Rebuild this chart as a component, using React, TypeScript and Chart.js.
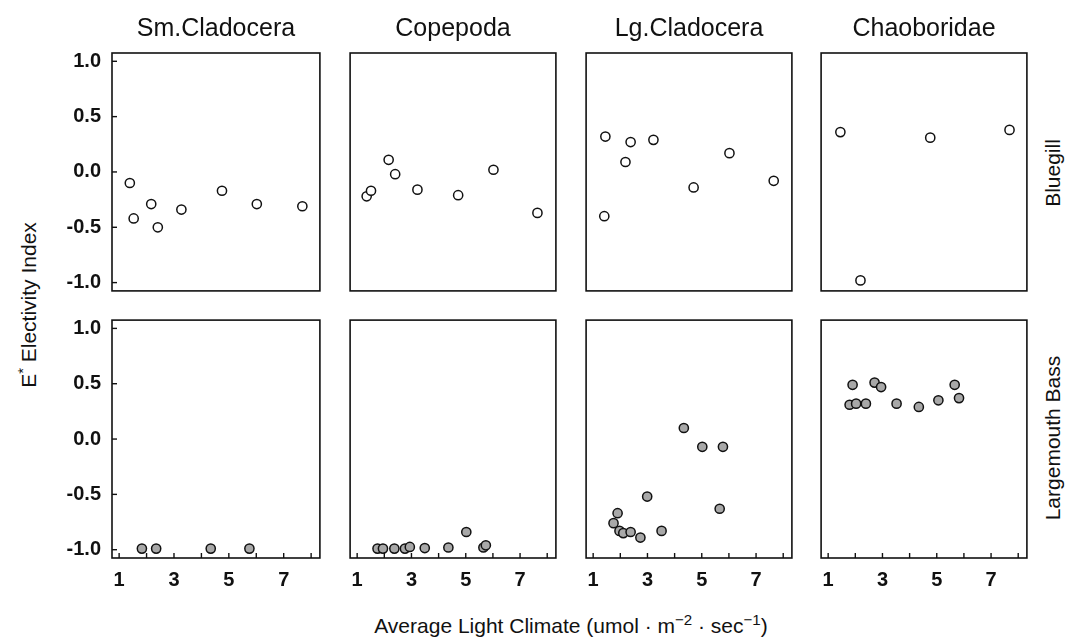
import React, { useEffect, useRef } from "react";
import { Chart, registerables } from "chart.js";

Chart.register(...registerables);

// ---------- Data ----------
const preyTitles = ["Sm.Cladocera", "Copepoda", "Lg.Cladocera", "Chaoboridae"];
const fishLabels = ["Bluegill", "Largemouth Bass"];

const xTickValues = [1, 2, 3, 4, 5, 6, 7, 8];
const xTickLabels = ["1", "", "3", "", "5", "", "7", ""];
const yTickValues = [-1, -0.5, 0, 0.5, 1];
const yTickLabels = ["-1.0", "-0.5", "0.0", "0.5", "1.0"];

// Bluegill
const bgSmCladoceraX = [1.39, 1.53, 2.17, 2.41, 3.27, 4.75, 6.02, 7.68];
const bgSmCladoceraY = [-0.1, -0.42, -0.29, -0.5, -0.34, -0.17, -0.29, -0.31];
const bgCopepodaX = [1.35, 1.51, 2.16, 2.4, 3.22, 4.72, 6.02, 7.64];
const bgCopepodaY = [-0.22, -0.17, 0.11, -0.02, -0.16, -0.21, 0.02, -0.37];
const bgLgCladoceraX = [1.41, 1.45, 2.19, 2.38, 3.22, 4.7, 6.02, 7.65];
const bgLgCladoceraY = [-0.4, 0.32, 0.09, 0.27, 0.29, -0.14, 0.17, -0.08];
const bgChaoboridaeX = [1.45, 2.19, 4.76, 7.68];
const bgChaoboridaeY = [0.36, -0.98, 0.31, 0.38];

// Largemouth Bass
const lmbSmCladoceraX = [1.83, 2.35, 4.34, 5.75];
const lmbSmCladoceraY = [-0.99, -0.99, -0.99, -0.99];
const lmbCopepodaX = [1.75, 1.95, 2.37, 2.76, 2.94, 3.49, 4.36, 5.02, 5.65, 5.74];
const lmbCopepodaY = [-0.99, -0.99, -0.99, -0.99, -0.975, -0.985, -0.98, -0.84, -0.98, -0.96];
const lmbLgCladoceraX = [1.75, 1.9, 1.97, 2.11, 2.38, 2.74, 2.99, 3.52, 4.34, 5.02, 5.66, 5.78];
const lmbLgCladoceraY = [-0.76, -0.67, -0.83, -0.85, -0.84, -0.89, -0.52, -0.83, 0.1, -0.07, -0.63, -0.07];
const lmbChaoboridaeX = [1.79, 1.9, 2.03, 2.39, 2.71, 2.95, 3.52, 4.34, 5.06, 5.66, 5.82];
const lmbChaoboridaeY = [0.31, 0.49, 0.32, 0.32, 0.51, 0.47, 0.32, 0.29, 0.35, 0.49, 0.37];

const panelXs = [
  [bgSmCladoceraX, bgCopepodaX, bgLgCladoceraX, bgChaoboridaeX],
  [lmbSmCladoceraX, lmbCopepodaX, lmbLgCladoceraX, lmbChaoboridaeX],
];
const panelYs = [
  [bgSmCladoceraY, bgCopepodaY, bgLgCladoceraY, bgChaoboridaeY],
  [lmbSmCladoceraY, lmbCopepodaY, lmbLgCladoceraY, lmbChaoboridaeY],
];

// ---------- Layout ----------
const X_MIN = 0.74;
const X_MAX = 8.32;
const Y_MIN = -1.075;
const Y_MAX = 1.075;

const BOX_LEFTS = [112, 348, 583.5, 819];
const BOX_TOPS = [53, 318];
const BOX_W = 210;
const BOX_H = 240;
const Y_AXIS_W = 60;
const X_AXIS_H = 36;
const TITLE_H = 53;
const EDGE = 4;

const FONT = "'Liberation Sans', Arial, Helvetica, sans-serif";
const INK = "#111111";

const framePlugin = {
  id: "panelFrame",
  afterDatasetsDraw(chart: any, _args: any, opts: any) {
    const { ctx, chartArea } = chart;
    const { left, right, top, bottom } = chartArea;
    ctx.save();
    ctx.strokeStyle = INK;
    ctx.lineWidth = 1.6;
    ctx.strokeRect(left, top, right - left, bottom - top);
    ctx.lineWidth = 1.4;
    const tl = 5;
    if (opts.xTicks) {
      const xs = chart.scales.x;
      xTickValues.forEach((v) => {
        const px = xs.getPixelForValue(v);
        ctx.beginPath();
        ctx.moveTo(px, bottom);
        ctx.lineTo(px, bottom - tl);
        ctx.stroke();
      });
    }
    if (opts.yTicks) {
      const ys = chart.scales.y;
      yTickValues.forEach((v) => {
        const py = ys.getPixelForValue(v);
        ctx.beginPath();
        ctx.moveTo(left, py);
        ctx.lineTo(left + tl, py);
        ctx.stroke();
      });
    }
    ctx.restore();
  },
};

function Panel({ row, col }: { row: number; col: number }) {
  const ref = useRef<HTMLCanvasElement | null>(null);
  const showX = row === 1;
  const showY = col === 0;
  const padL = showY ? Y_AXIS_W : EDGE;
  const padT = row === 0 ? TITLE_H : EDGE;
  const padB = showX ? X_AXIS_H : EDGE;
  const width = BOX_W + padL + EDGE;
  const height = BOX_H + padT + padB;
  const left = BOX_LEFTS[col] - padL;
  const top = BOX_TOPS[row] - padT;

  useEffect(() => {
    if (!ref.current) return;
    const xs = panelXs[row][col];
    const ys = panelYs[row][col];
    const data = xs.map((x, i) => ({ x, y: ys[i] }));
    const chart = new Chart(ref.current, {
      type: "scatter",
      data: {
        datasets: [
          {
            label: fishLabels[row] + " " + preyTitles[col],
            data,
            backgroundColor: row === 0 ? "#ffffff" : "#a8a8a8",
            borderColor: INK,
            borderWidth: 1.5,
            pointRadius: 4.6,
            pointHoverRadius: 4.6,
            clip: false as any,
          },
        ],
      },
      options: {
        animation: false,
        responsive: false,
        events: [],
        layout: {
          padding: {
            left: showY ? 0 : EDGE,
            right: EDGE,
            top: row === 0 ? 0 : EDGE,
            bottom: showX ? 0 : EDGE,
          },
        },
        scales: {
          x: {
            type: "linear",
            min: X_MIN,
            max: X_MAX,
            display: showX,
            afterBuildTicks: (s: any) => {
              s.ticks = xTickValues.map((v) => ({ value: v }));
            },
            afterFit: (s: any) => {
              s.height = showX ? X_AXIS_H : 0;
              s.paddingLeft = 0;
              s.paddingRight = 0;
            },
            grid: { display: false, drawTicks: false },
            border: { display: false },
            ticks: {
              autoSkip: false,
              maxRotation: 0,
              padding: 10,
              color: INK,
              font: { family: FONT, size: 20, weight: "bold" },
              callback: (v: any) => xTickLabels[xTickValues.indexOf(Number(v))] ?? "",
            },
          },
          y: {
            type: "linear",
            min: Y_MIN,
            max: Y_MAX,
            display: showY,
            afterBuildTicks: (s: any) => {
              s.ticks = yTickValues.map((v) => ({ value: v }));
            },
            afterFit: (s: any) => {
              s.width = showY ? Y_AXIS_W : 0;
              s.paddingTop = 0;
              s.paddingBottom = 0;
            },
            grid: { display: false, drawTicks: false },
            border: { display: false },
            ticks: {
              autoSkip: false,
              padding: 11,
              color: INK,
              font: { family: FONT, size: 20, weight: "bold" },
              callback: (v: any) => yTickLabels[yTickValues.indexOf(Number(v))] ?? "",
            },
          },
        },
        plugins: {
          legend: { display: false },
          tooltip: { enabled: false },
          title: {
            display: row === 0,
            text: preyTitles[col],
            fullSize: false,
            color: INK,
            font: { family: FONT, size: 25, weight: "normal", lineHeight: 1 },
            padding: { top: 17, bottom: TITLE_H - 25 - 17 },
          },
          panelFrame: { xTicks: showX, yTicks: showY },
        } as any,
      },
      plugins: [framePlugin],
    } as any);
    return () => chart.destroy();
  }, [row, col]);

  return (
    <canvas
      ref={ref}
      width={width}
      height={height}
      style={{ position: "absolute", left, top, width, height }}
    />
  );
}

export default function App() {
  const textBase: React.CSSProperties = {
    position: "absolute",
    fontFamily: FONT,
    color: INK,
    whiteSpace: "nowrap",
    lineHeight: 1,
  };
  return (
    <div
      style={{
        position: "fixed",
        left: 0,
        top: 0,
        width: 1067,
        height: 641,
        background: "#ffffff",
        overflow: "hidden",
      }}
    >
      {[0, 1].map((r) => [0, 1, 2, 3].map((c) => <Panel key={r + "-" + c} row={r} col={c} />))}
      <div
        style={{
          ...textBase,
          left: 27,
          top: 305,
          fontSize: 21,
          transform: "translate(-50%, -50%) rotate(-90deg)",
        }}
      >
        E<sup style={{ fontSize: "0.7em" }}>*</sup> Electivity Index
      </div>
      <div
        style={{
          ...textBase,
          left: 571,
          top: 624,
          fontSize: 21,
          transform: "translate(-50%, -50%)",
        }}
      >
        Average Light Climate (umol · m<sup style={{ fontSize: "0.72em" }}>−2</sup> · sec
        <sup style={{ fontSize: "0.72em" }}>−1</sup>)
      </div>
      {fishLabels.map((label, i) => (
        <div
          key={label}
          style={{
            ...textBase,
            left: 1052,
            top: BOX_TOPS[i] + BOX_H / 2,
            fontSize: 21,
            transform: "translate(-50%, -50%) rotate(-90deg)",
          }}
        >
          {label}
        </div>
      ))}
    </div>
  );
}
